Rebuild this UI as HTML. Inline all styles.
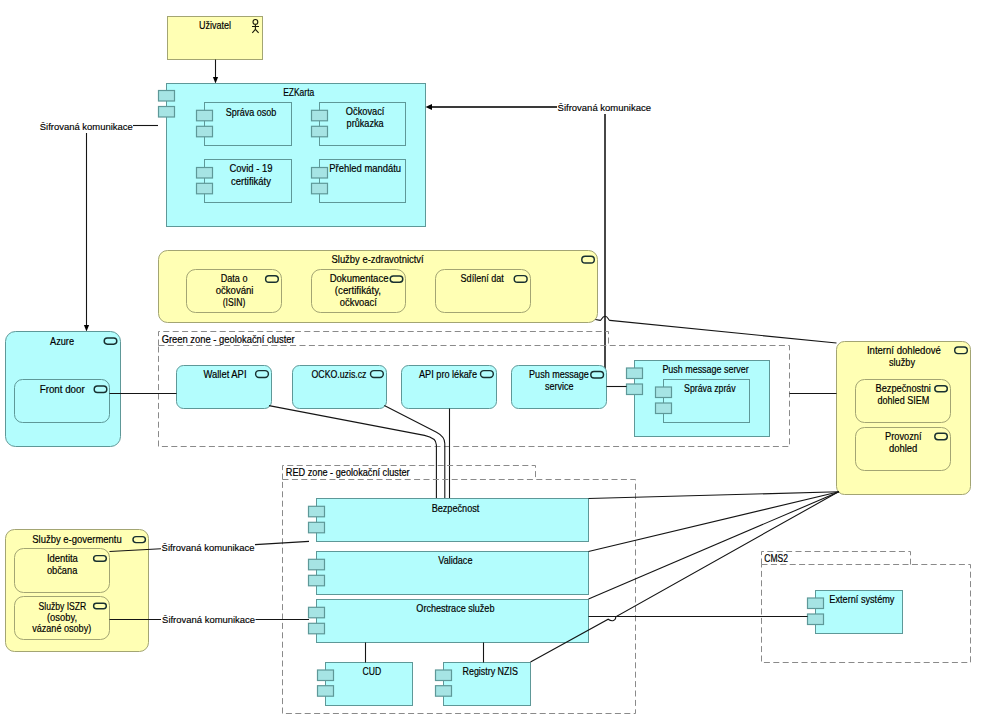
<!DOCTYPE html>
<html><head><meta charset="utf-8"><style>
html,body{margin:0;padding:0;background:#fff;width:1000px;height:726px;overflow:hidden}
svg{display:block}
text{font-family:"Liberation Sans",sans-serif;fill:#000;stroke:#000;stroke-width:0.18px}
text.l{stroke-width:0.15px;font-size:9.8px}
text.g{stroke-width:0.2px}
</style></head><body>
<svg width="1000" height="726" viewBox="0 0 1000 726">
<rect x="167.5" y="16.5" width="95.0" height="43.0" rx="0" fill="#ffffb4" stroke="#a3a573" stroke-width="1"/>
<text x="215" y="29.1" text-anchor="middle" font-size="10.1" textLength="32" lengthAdjust="spacingAndGlyphs">Uživatel</text>
<g fill="none" stroke="#1a1a0a" stroke-width="1.1"><circle cx="255.4" cy="21.9" r="2.4"/><path d="M255.4 24.3 V29.4 M252 26.5 H259 M252.3 32.9 L255.4 29.4 L258.6 32.9"/></g>
<path d="M215.5 59.5 V77" fill="none" stroke="#151515" stroke-width="1.1"/>
<path d="M215.5 83.5 L212.9 77.0 L218.1 77.0 Z" fill="#000"/>
<rect x="166.5" y="83.5" width="259.0" height="143.0" rx="0" fill="#b3fdfd" stroke="#5e9898" stroke-width="1"/>
<rect x="158.5" y="90.5" width="16.0" height="10.5" rx="0" fill="#a6e4e4" stroke="#5e9898" stroke-width="1.2"/>
<rect x="158.5" y="106.5" width="16.0" height="10.5" rx="0" fill="#a6e4e4" stroke="#5e9898" stroke-width="1.2"/>
<text x="298.7" y="95.8" text-anchor="middle" font-size="10.1" textLength="31" lengthAdjust="spacingAndGlyphs">EZKarta</text>
<rect x="204.5" y="102.5" width="87.0" height="43.0" rx="0" fill="#b3fdfd" stroke="#5e9898" stroke-width="1"/>
<rect x="196.5" y="110.3" width="16.0" height="10.5" rx="0" fill="#a6e4e4" stroke="#5e9898" stroke-width="1.2"/>
<rect x="196.5" y="126.3" width="16.0" height="10.5" rx="0" fill="#a6e4e4" stroke="#5e9898" stroke-width="1.2"/>
<text x="251.1" y="115.8" text-anchor="middle" font-size="10.1" textLength="50.6" lengthAdjust="spacingAndGlyphs">Správa osob</text>
<rect x="319.5" y="102.5" width="86.0" height="43.0" rx="0" fill="#b3fdfd" stroke="#5e9898" stroke-width="1"/>
<rect x="311.5" y="110.3" width="16.0" height="10.5" rx="0" fill="#a6e4e4" stroke="#5e9898" stroke-width="1.2"/>
<rect x="311.5" y="126.3" width="16.0" height="10.5" rx="0" fill="#a6e4e4" stroke="#5e9898" stroke-width="1.2"/>
<text x="365.1" y="115.2" text-anchor="middle" font-size="10.1" textLength="38.5" lengthAdjust="spacingAndGlyphs">Očkovací</text>
<text x="365.1" y="127.0" text-anchor="middle" font-size="10.1" textLength="37" lengthAdjust="spacingAndGlyphs">průkazka</text>
<rect x="204.5" y="159.5" width="87.0" height="43.0" rx="0" fill="#b3fdfd" stroke="#5e9898" stroke-width="1"/>
<rect x="196.5" y="167.5" width="16.0" height="10.5" rx="0" fill="#a6e4e4" stroke="#5e9898" stroke-width="1.2"/>
<rect x="196.5" y="183.3" width="16.0" height="10.5" rx="0" fill="#a6e4e4" stroke="#5e9898" stroke-width="1.2"/>
<text x="251" y="172.2" text-anchor="middle" font-size="10.1" textLength="43" lengthAdjust="spacingAndGlyphs">Covid - 19</text>
<text x="251" y="184.6" text-anchor="middle" font-size="10.1" textLength="40" lengthAdjust="spacingAndGlyphs">certifikáty</text>
<rect x="319.5" y="159.5" width="86.0" height="43.0" rx="0" fill="#b3fdfd" stroke="#5e9898" stroke-width="1"/>
<rect x="311.5" y="167.5" width="16.0" height="10.5" rx="0" fill="#a6e4e4" stroke="#5e9898" stroke-width="1.2"/>
<rect x="311.5" y="183.3" width="16.0" height="10.5" rx="0" fill="#a6e4e4" stroke="#5e9898" stroke-width="1.2"/>
<text x="365.2" y="172.2" text-anchor="middle" font-size="10.1" textLength="71.7" lengthAdjust="spacingAndGlyphs">Přehled mandátu</text>
<text x="86.3" y="130.0" text-anchor="middle" font-size="10.1" textLength="93" lengthAdjust="spacingAndGlyphs" class="l">Šifrovaná komunikace</text>
<path d="M133 125.5 H158" fill="none" stroke="#151515" stroke-width="1.1"/>
<path d="M86.5 133 V325" fill="none" stroke="#151515" stroke-width="1.1"/>
<path d="M86.5 331.5 L83.9 325.0 L89.1 325.0 Z" fill="#000"/>
<path d="M431 107 H557" fill="none" stroke="#3a3a3a" stroke-width="1.8"/>
<path d="M425.5 107 L432.0 104 L432.0 110 Z" fill="#000"/>
<text x="604.3" y="111.2" text-anchor="middle" font-size="10.1" textLength="93.5" lengthAdjust="spacingAndGlyphs" class="l">Šifrovaná komunikace</text>
<path d="M605 114 V369" fill="none" stroke="#333" stroke-width="1.8"/>
<rect x="158.5" y="250.5" width="439.0" height="72.0" rx="9" fill="#ffffb4" stroke="#a3a573" stroke-width="1"/>
<rect x="581.8" y="256.3" width="12.5" height="6.7" rx="3.3499999999999943" fill="none" stroke="#183030" stroke-width="1.45"/>
<text x="377.6" y="262.7" text-anchor="middle" font-size="10.1" textLength="92.2" lengthAdjust="spacingAndGlyphs">Služby e-zdravotnictví</text>
<rect x="186.5" y="269.5" width="95.0" height="43.0" rx="9" fill="#ffffb4" stroke="#a3a573" stroke-width="1"/>
<rect x="265.6" y="275.7" width="12.7" height="6.6" rx="3.3000000000000114" fill="none" stroke="#183030" stroke-width="1.45"/>
<text x="234.1" y="282.1" text-anchor="middle" font-size="10.1" textLength="26.7" lengthAdjust="spacingAndGlyphs">Data o</text>
<text x="234.6" y="294.1" text-anchor="middle" font-size="10.1" textLength="37.8" lengthAdjust="spacingAndGlyphs">očkováni</text>
<text x="234" y="306.2" text-anchor="middle" font-size="10.1" textLength="22.5" lengthAdjust="spacingAndGlyphs">(ISIN)</text>
<rect x="311.5" y="269.5" width="94.0" height="43.0" rx="9" fill="#ffffb4" stroke="#a3a573" stroke-width="1"/>
<rect x="390.2" y="275.9" width="12.6" height="6.4" rx="3.200000000000017" fill="none" stroke="#183030" stroke-width="1.45"/>
<text x="359.1" y="282.2" text-anchor="middle" font-size="10.1" textLength="58.8" lengthAdjust="spacingAndGlyphs">Dokumentace</text>
<text x="357.9" y="294.1" text-anchor="middle" font-size="10.1" textLength="46.2" lengthAdjust="spacingAndGlyphs">(certifikáty,</text>
<text x="358.3" y="306.2" text-anchor="middle" font-size="10.1" textLength="37" lengthAdjust="spacingAndGlyphs">očkvoací</text>
<rect x="435.5" y="269.5" width="95.0" height="43.0" rx="9" fill="#ffffb4" stroke="#a3a573" stroke-width="1"/>
<rect x="514.2" y="275.6" width="12.9" height="6.6" rx="3.299999999999983" fill="none" stroke="#183030" stroke-width="1.45"/>
<text x="482.2" y="282.3" text-anchor="middle" font-size="10.1" textLength="43.2" lengthAdjust="spacingAndGlyphs">Sdílení dat</text>
<path d="M595.4 319.5 L600.3 320.4 C601.5 320.5 602 316.2 605 316.2 C608 316.2 608.5 320.3 609.8 320.4 L836.5 343" fill="none" stroke="#151515" stroke-width="1.1"/>
<path d="M158.5 345.5 V331.5 H608.5 V345.5" fill="none" stroke="#8a8a8a" stroke-dasharray="6 3.4"/>
<path d="M158.5 345.5 H789.5 V446.5 H158.5 Z" fill="none" stroke="#8a8a8a" stroke-dasharray="6 3.4"/>
<text x="161.7" y="342.6" text-anchor="start" font-size="10.4" textLength="133" lengthAdjust="spacingAndGlyphs" class="g">Green zone - geolokační cluster</text>
<rect x="176.5" y="365.5" width="95.0" height="43.0" rx="7" fill="#b3fdfd" stroke="#5e9898" stroke-width="1"/>
<rect x="255.6" y="370.6" width="12.8" height="6.8" rx="3.3999999999999773" fill="none" stroke="#183030" stroke-width="1.45"/>
<text x="225" y="378.4" text-anchor="middle" font-size="10.1" textLength="43" lengthAdjust="spacingAndGlyphs">Wallet API</text>
<rect x="292.5" y="365.5" width="94.0" height="43.0" rx="7" fill="#b3fdfd" stroke="#5e9898" stroke-width="1"/>
<rect x="370.5" y="370.6" width="12.8" height="6.8" rx="3.3999999999999773" fill="none" stroke="#183030" stroke-width="1.45"/>
<text x="339" y="378.4" text-anchor="middle" font-size="10.1" textLength="55" lengthAdjust="spacingAndGlyphs">OCKO.uzis.cz</text>
<rect x="401.5" y="365.5" width="95.0" height="43.0" rx="7" fill="#b3fdfd" stroke="#5e9898" stroke-width="1"/>
<rect x="480.5" y="370.6" width="12.8" height="6.8" rx="3.3999999999999773" fill="none" stroke="#183030" stroke-width="1.45"/>
<text x="448" y="378.4" text-anchor="middle" font-size="10.1" textLength="58" lengthAdjust="spacingAndGlyphs">API pro lékaře</text>
<rect x="511.5" y="365.5" width="95.0" height="43.0" rx="7" fill="#b3fdfd" stroke="#5e9898" stroke-width="1"/>
<rect x="590.8" y="371.5" width="12.7" height="6.5" rx="3.25" fill="none" stroke="#183030" stroke-width="1.45"/>
<text x="559" y="377.8" text-anchor="middle" font-size="10.1" textLength="59.8" lengthAdjust="spacingAndGlyphs">Push message</text>
<text x="559.3" y="389.7" text-anchor="middle" font-size="10.1" textLength="28.4" lengthAdjust="spacingAndGlyphs">service</text>
<rect x="634.5" y="360.5" width="135.0" height="76.0" rx="0" fill="#b3fdfd" stroke="#5e9898" stroke-width="1"/>
<rect x="626.5" y="368" width="16.0" height="10.5" rx="0" fill="#a6e4e4" stroke="#5e9898" stroke-width="1.2"/>
<rect x="626.5" y="384" width="16.0" height="10.5" rx="0" fill="#a6e4e4" stroke="#5e9898" stroke-width="1.2"/>
<text x="705.6" y="372.7" text-anchor="middle" font-size="10.1" textLength="86.4" lengthAdjust="spacingAndGlyphs">Push message server</text>
<rect x="663.5" y="379.5" width="86.0" height="43.0" rx="0" fill="#b3fdfd" stroke="#5e9898" stroke-width="1"/>
<rect x="655.5" y="387" width="16.0" height="10.5" rx="0" fill="#a6e4e4" stroke="#5e9898" stroke-width="1.2"/>
<rect x="655.5" y="403" width="16.0" height="10.5" rx="0" fill="#a6e4e4" stroke="#5e9898" stroke-width="1.2"/>
<text x="709.8" y="391.9" text-anchor="middle" font-size="10.1" textLength="51.5" lengthAdjust="spacingAndGlyphs">Správa zpráv</text>
<path d="M606.5 386.5 H626.5" fill="none" stroke="#151515" stroke-width="1.1"/>
<rect x="5.5" y="331.5" width="115.0" height="115.0" rx="10" fill="#b3fdfd" stroke="#5e9898" stroke-width="1"/>
<rect x="104.2" y="338" width="12.6" height="6.2" rx="3.0999999999999943" fill="none" stroke="#183030" stroke-width="1.45"/>
<text x="62" y="345.4" text-anchor="middle" font-size="10.1" textLength="24" lengthAdjust="spacingAndGlyphs">Azure</text>
<rect x="14.5" y="379.5" width="95.0" height="43.0" rx="8" fill="#b3fdfd" stroke="#5e9898" stroke-width="1"/>
<rect x="94.2" y="386" width="12.6" height="6.5" rx="3.25" fill="none" stroke="#183030" stroke-width="1.45"/>
<text x="62.2" y="393.4" text-anchor="middle" font-size="10.1" textLength="45" lengthAdjust="spacingAndGlyphs">Front door</text>
<path d="M109.5 393.5 H176.5" fill="none" stroke="#151515" stroke-width="1.1"/>
<rect x="836.5" y="341.5" width="134.0" height="153.0" rx="8" fill="#ffffb4" stroke="#a3a573" stroke-width="1"/>
<rect x="954.7" y="347" width="12.6" height="6.6" rx="3.3000000000000114" fill="none" stroke="#183030" stroke-width="1.45"/>
<text x="903.9" y="353.8" text-anchor="middle" font-size="10.1" textLength="74" lengthAdjust="spacingAndGlyphs">Interní dohledové</text>
<text x="902" y="365.8" text-anchor="middle" font-size="10.1" textLength="26" lengthAdjust="spacingAndGlyphs">služby</text>
<rect x="855.5" y="379.5" width="95.0" height="43.0" rx="9" fill="#ffffb4" stroke="#a3a573" stroke-width="1"/>
<rect x="934.8" y="385.7" width="12.5" height="6.1" rx="3.0500000000000114" fill="none" stroke="#183030" stroke-width="1.45"/>
<text x="903.2" y="392.4" text-anchor="middle" font-size="10.1" textLength="55.4" lengthAdjust="spacingAndGlyphs">Bezpečnostni</text>
<text x="903.4" y="403.8" text-anchor="middle" font-size="10.1" textLength="51.8" lengthAdjust="spacingAndGlyphs">dohled SIEM</text>
<rect x="855.5" y="427.5" width="95.0" height="43.0" rx="9" fill="#ffffb4" stroke="#a3a573" stroke-width="1"/>
<rect x="934.8" y="433.3" width="12.5" height="6.4" rx="3.1999999999999886" fill="none" stroke="#183030" stroke-width="1.45"/>
<text x="903.3" y="440.4" text-anchor="middle" font-size="10.1" textLength="36.5" lengthAdjust="spacingAndGlyphs">Provozní</text>
<text x="903.2" y="451.8" text-anchor="middle" font-size="10.1" textLength="28.3" lengthAdjust="spacingAndGlyphs">dohled</text>
<path d="M789.5 393.5 H836.5" fill="none" stroke="#151515" stroke-width="1.1"/>
<path d="M269 405.6 L424.5 435.4 C431 436.8 436.4 439.5 436.4 445 V498.5" fill="none" stroke="#151515" stroke-width="1.1"/>
<path d="M384.3 405.6 L436.5 432.3 C442 435.2 444.8 438 444.8 443.5 V498.5" fill="none" stroke="#151515" stroke-width="1.1"/>
<path d="M449.5 408.5 V498.5" fill="none" stroke="#151515" stroke-width="1.1"/>
<path d="M282.5 479.5 V465.5 H535.5 V479.5" fill="none" stroke="#8a8a8a" stroke-dasharray="6 3.4"/>
<path d="M282.5 479.5 H635.5 V713.5 H282.5 Z" fill="none" stroke="#8a8a8a" stroke-dasharray="6 3.4"/>
<text x="285.8" y="476.1" text-anchor="start" font-size="10.4" textLength="123.8" lengthAdjust="spacingAndGlyphs" class="g">RED zone - geolokační cluster</text>
<rect x="316.5" y="498.5" width="272.0" height="43.0" rx="0" fill="#b3fdfd" stroke="#5e9898" stroke-width="1"/>
<rect x="308.5" y="506.3" width="16.0" height="10.5" rx="0" fill="#a6e4e4" stroke="#5e9898" stroke-width="1.2"/>
<rect x="308.5" y="522.3" width="16.0" height="10.5" rx="0" fill="#a6e4e4" stroke="#5e9898" stroke-width="1.2"/>
<text x="455.5" y="511.9" text-anchor="middle" font-size="10.1" textLength="47.7" lengthAdjust="spacingAndGlyphs">Bezpečnost</text>
<rect x="316.5" y="551.5" width="272.0" height="43.0" rx="0" fill="#b3fdfd" stroke="#5e9898" stroke-width="1"/>
<rect x="308.5" y="559.3" width="16.0" height="10.5" rx="0" fill="#a6e4e4" stroke="#5e9898" stroke-width="1.2"/>
<rect x="308.5" y="575.3" width="16.0" height="10.5" rx="0" fill="#a6e4e4" stroke="#5e9898" stroke-width="1.2"/>
<text x="455.4" y="564.3" text-anchor="middle" font-size="10.1" textLength="34.1" lengthAdjust="spacingAndGlyphs">Validace</text>
<rect x="316.5" y="599.5" width="272.0" height="43.0" rx="0" fill="#b3fdfd" stroke="#5e9898" stroke-width="1"/>
<rect x="308.5" y="607.3" width="16.0" height="10.5" rx="0" fill="#a6e4e4" stroke="#5e9898" stroke-width="1.2"/>
<rect x="308.5" y="623.3" width="16.0" height="10.5" rx="0" fill="#a6e4e4" stroke="#5e9898" stroke-width="1.2"/>
<text x="455.4" y="612.0" text-anchor="middle" font-size="10.1" textLength="78.1" lengthAdjust="spacingAndGlyphs">Orchestrace služeb</text>
<rect x="325.5" y="662.5" width="87.0" height="43.0" rx="0" fill="#b3fdfd" stroke="#5e9898" stroke-width="1"/>
<rect x="317.5" y="670" width="16.0" height="10.5" rx="0" fill="#a6e4e4" stroke="#5e9898" stroke-width="1.2"/>
<rect x="317.5" y="685.7" width="16.0" height="10.5" rx="0" fill="#a6e4e4" stroke="#5e9898" stroke-width="1.2"/>
<text x="371.8" y="674.9" text-anchor="middle" font-size="10.1" textLength="18.7" lengthAdjust="spacingAndGlyphs">CUD</text>
<rect x="443.5" y="662.5" width="87.0" height="43.0" rx="0" fill="#b3fdfd" stroke="#5e9898" stroke-width="1"/>
<rect x="435.5" y="670" width="16.0" height="10.5" rx="0" fill="#a6e4e4" stroke="#5e9898" stroke-width="1.2"/>
<rect x="435.5" y="685.7" width="16.0" height="10.5" rx="0" fill="#a6e4e4" stroke="#5e9898" stroke-width="1.2"/>
<text x="490.2" y="674.9" text-anchor="middle" font-size="10.1" textLength="55.4" lengthAdjust="spacingAndGlyphs">Registry NZIS</text>
<path d="M365.5 642.5 V662.5" fill="none" stroke="#151515" stroke-width="1.1"/>
<path d="M483.5 642.5 V662.5" fill="none" stroke="#151515" stroke-width="1.1"/>
<rect x="5.5" y="529.5" width="143.0" height="122.0" rx="9" fill="#ffffb4" stroke="#a3a573" stroke-width="1"/>
<rect x="133" y="536.6" width="12.4" height="6.0" rx="3.0" fill="none" stroke="#183030" stroke-width="1.45"/>
<text x="77" y="543.3" text-anchor="middle" font-size="10.1" textLength="89.5" lengthAdjust="spacingAndGlyphs">Služby e-govermentu</text>
<rect x="14.5" y="548.5" width="95.0" height="44.0" rx="9" fill="#ffffb4" stroke="#a3a573" stroke-width="1"/>
<rect x="93.6" y="555.6" width="12.7" height="5.7" rx="2.849999999999966" fill="none" stroke="#183030" stroke-width="1.45"/>
<text x="62.4" y="562.1" text-anchor="middle" font-size="10.1" textLength="31" lengthAdjust="spacingAndGlyphs">Identita</text>
<text x="62.1" y="573.7" text-anchor="middle" font-size="10.1" textLength="30.4" lengthAdjust="spacingAndGlyphs">občana</text>
<rect x="14.5" y="596.5" width="95.0" height="43.0" rx="9" fill="#ffffb4" stroke="#a3a573" stroke-width="1"/>
<rect x="93.6" y="603.3" width="12.7" height="5.5" rx="2.75" fill="none" stroke="#183030" stroke-width="1.45"/>
<text x="62.4" y="609.5" text-anchor="middle" font-size="10.1" textLength="47.8" lengthAdjust="spacingAndGlyphs">Služby ISZR</text>
<text x="62" y="621.1" text-anchor="middle" font-size="10.1" textLength="30" lengthAdjust="spacingAndGlyphs">(osoby,</text>
<text x="61.7" y="632.4" text-anchor="middle" font-size="10.1" textLength="59" lengthAdjust="spacingAndGlyphs">vázané osoby)</text>
<path d="M109.5 551.5 L161 548.8" fill="none" stroke="#151515" stroke-width="1.1"/>
<text x="208.1" y="550.5" text-anchor="middle" font-size="10.1" textLength="93" lengthAdjust="spacingAndGlyphs" class="l">Šifrovaná komunikace</text>
<path d="M255 544.6 L309 541.4" fill="none" stroke="#151515" stroke-width="1.1"/>
<path d="M109.5 619.5 H161" fill="none" stroke="#151515" stroke-width="1.1"/>
<text x="208.6" y="623.1" text-anchor="middle" font-size="10.1" textLength="93" lengthAdjust="spacingAndGlyphs" class="l">Šifrovaná komunikace</text>
<path d="M255.5 619.5 H309" fill="none" stroke="#151515" stroke-width="1.1"/>
<path d="M761.5 564.5 V551.5 H910.5 V564.5" fill="none" stroke="#8a8a8a" stroke-dasharray="6 3.4"/>
<path d="M761.5 564.5 H970.5 V662.5 H761.5 Z" fill="none" stroke="#8a8a8a" stroke-dasharray="6 3.4"/>
<text x="764.3" y="562.2" text-anchor="start" font-size="10.4" textLength="23.7" lengthAdjust="spacingAndGlyphs" class="g">CMS2</text>
<rect x="815.5" y="590.5" width="87.0" height="43.0" rx="0" fill="#b3fdfd" stroke="#5e9898" stroke-width="1"/>
<rect x="807.5" y="598" width="16.0" height="10.5" rx="0" fill="#a6e4e4" stroke="#5e9898" stroke-width="1.2"/>
<rect x="807.5" y="614" width="16.0" height="10.5" rx="0" fill="#a6e4e4" stroke="#5e9898" stroke-width="1.2"/>
<text x="861.9" y="603.0" text-anchor="middle" font-size="10.1" textLength="65.1" lengthAdjust="spacingAndGlyphs">Externí systémy</text>
<path d="M588.5 616.5 H807.5" fill="none" stroke="#151515" stroke-width="1.1"/>
<path d="M588.5 498.5 L839 491.8" fill="none" stroke="#151515" stroke-width="1.1"/>
<path d="M588.5 551.5 L839 491.8" fill="none" stroke="#151515" stroke-width="1.1"/>
<path d="M588.5 599 L839 491.8" fill="none" stroke="#151515" stroke-width="1.1"/>
<path d="M530.5 662 L608.2 619.2 C610 620.5 612 621 613.5 620.5 C615 620 615.8 618.5 615.8 616.8 L839 491.5" fill="none" stroke="#151515" stroke-width="1.1"/>
</svg>
</body></html>
